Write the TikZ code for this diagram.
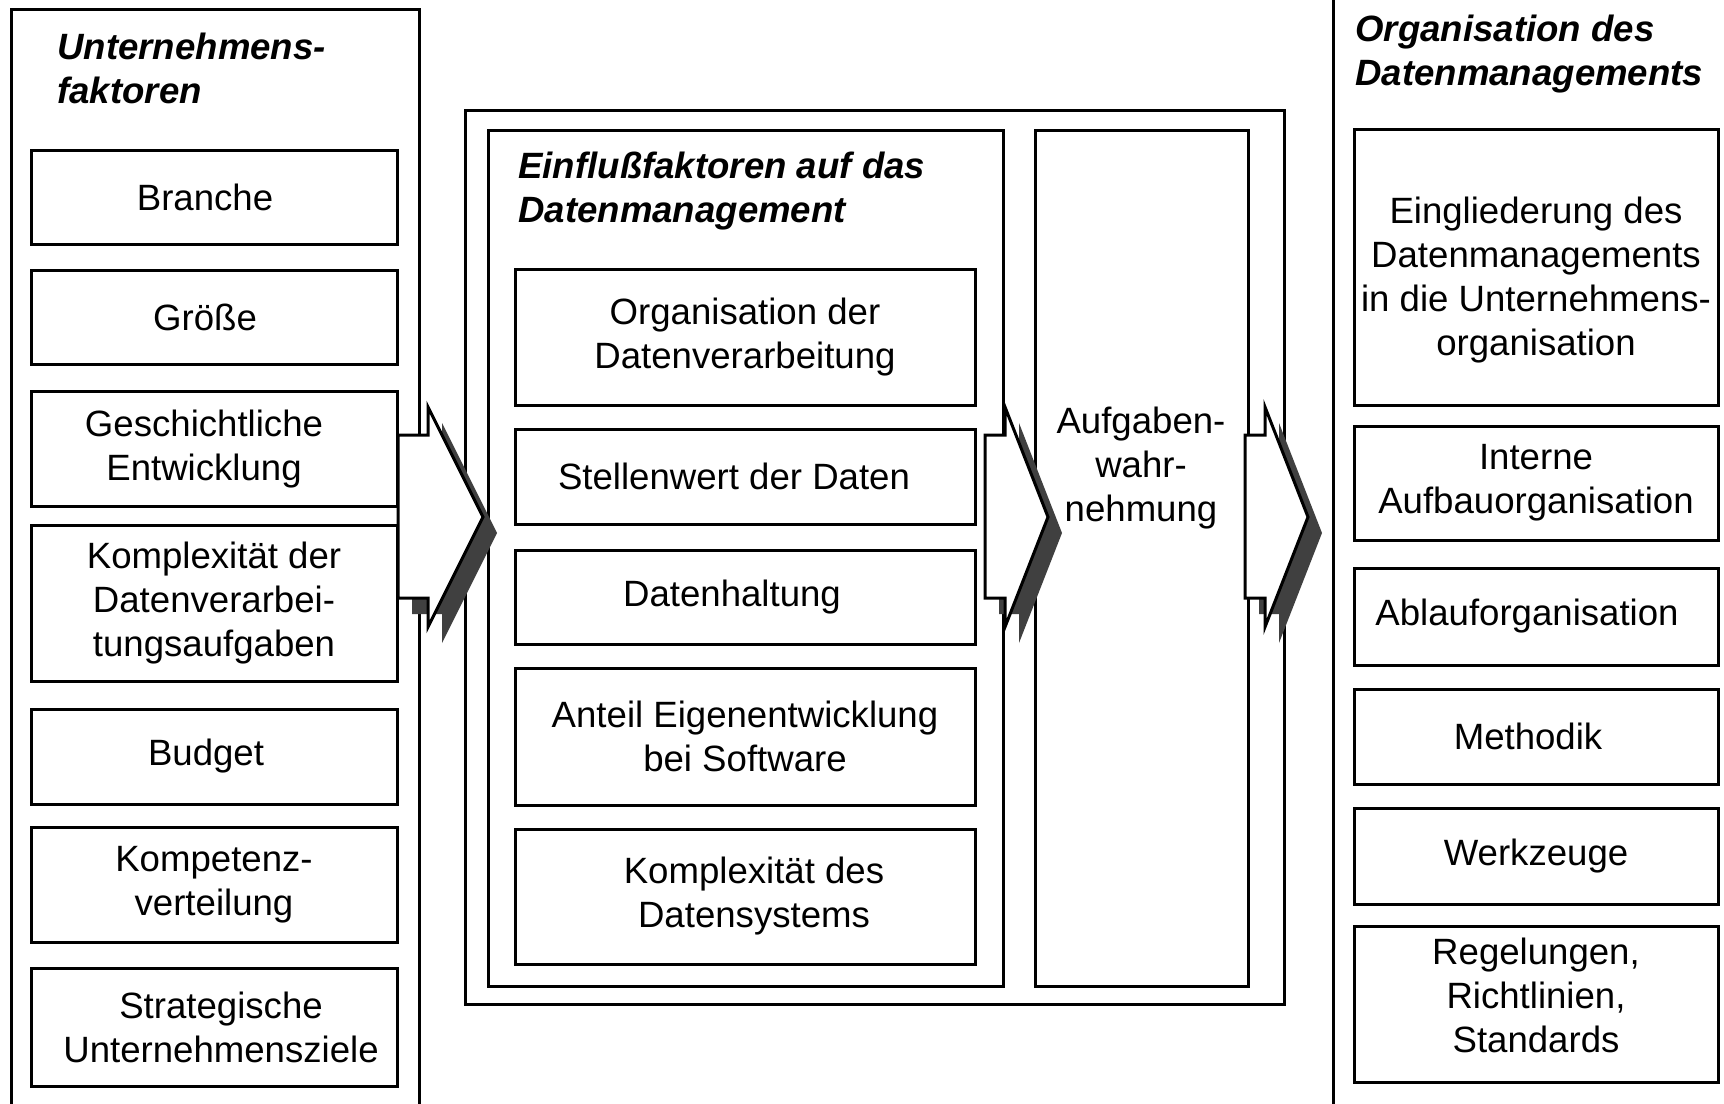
\documentclass[tikz,border=0pt]{standalone}
\usepackage{fontspec}
\setmainfont{Liberation Sans}
\definecolor{shadowgray}{RGB}{64,64,64}
\newcommand{\boxfont}{\fontsize{18.3}{22}\selectfont}
\newcommand{\headfont}{\fontsize{18.3}{22}\selectfont\bfseries\itshape}
\tikzset{
    box/.style={draw, line width=1.5pt, inner sep=0pt, align=center, font=\boxfont},
    head/.style={anchor=base west, align=left, inner sep=0pt, font=\headfont},
    frame/.style={draw, line width=1.5pt},
    blockarrow/.style={draw, fill=white, line width=1.5pt},
    arrowshadow/.style={fill=shadowgray, shift={(14,16)}}
}
\begin{document}
\begin{tikzpicture}[x=0.5pt, y=-0.5pt]
    \useasboundingbox (0,0) rectangle (1724,1103);

    % Unternehmensfaktoren (left column)
    \draw[frame] (11,1110) -- (11,9) -- (419,9) -- (419,1110);
    \node[head] (uf-head) at (57,103) {Unternehmens-\\faktoren};
    \node[box, minimum width=183pt, minimum height=47pt] (branche) at (214,197) {Branche\hspace*{9pt}};
    \node[box, minimum width=183pt, minimum height=47pt] (groesse) at (214,317) {Größe\hspace*{9pt}};
    \node[box, minimum width=183pt, minimum height=57.5pt] (geschichte) at (214,449) {Geschichtliche\hspace*{10pt}\\Entwicklung\hspace*{10pt}};
    \node[box, minimum width=183pt, minimum height=78pt] (komplex-dv) at (214,603) {Komplexität der\\Datenverarbei-\\tungsaufgaben};
    \node[box, minimum width=183pt, minimum height=47.5pt] (budget) at (214,756.5) {Budget\hspace*{8pt}};
    \node[box, minimum width=183pt, minimum height=57.5pt] (kompetenz) at (214,884.5) {Kompetenz-\\verteilung};
    \node[box, minimum width=183pt, minimum height=59pt] (strategie) at (214,1027) {\hspace*{7pt}Strategische\\\hspace*{7pt}Unternehmensziele};

    % Einflussfaktoren and Aufgabenwahrnehmung (middle)
    \node[box, minimum width=409.5pt, minimum height=447pt] (mitte) at (874.5,557) {};
    \node[box, minimum width=257.5pt, minimum height=428pt] (einfluss) at (745.5,558) {};
    \node[box, minimum width=106.5pt, minimum height=428pt] (aufgaben) at (1141.5,558) {};
    \node[head] (ed-head) at (518,222) {Einflußfaktoren auf das\\Datenmanagement};
    \node[box, minimum width=230pt, minimum height=68pt] (org-dv) at (745,337) {Organisation der\\Datenverarbeitung};
    \node[box, minimum width=230pt, minimum height=47.5pt] (stellenwert) at (745,476.5) {Stellenwert der Daten\hspace*{11pt}};
    \node[box, minimum width=230pt, minimum height=47pt] (haltung) at (745,597) {Datenhaltung\hspace*{13pt}};
    \node[box, minimum width=230pt, minimum height=68.5pt] (anteil) at (745,736.5) {Anteil Eigenentwicklung\\bei Software};
    \node[box, minimum width=230pt, minimum height=67.5pt] (komplex-ds) at (745,896.5) {\hspace*{9pt}Komplexität des\\\hspace*{9pt}Datensystems};
    \node[font=\boxfont, align=center, anchor=base, inner sep=0pt] (aufgaben-text) at (1141,521) {Aufgaben-\\wahr-\\nehmung};

    % Organisation des Datenmanagements (right column)
    \draw[frame] (1333,-5) -- (1333,1110);
    \node[head] (od-head) at (1355,85) {Organisation des\\Datenmanagements};
    \node[box, minimum width=182pt, minimum height=138pt] (eingliederung) at (1536,267) {\rule{0pt}{26pt}Eingliederung des\\Datenmanagements\\in die Unternehmens-\\organisation};
    \node[box, minimum width=182pt, minimum height=57pt] (interne) at (1536,483) {Interne\\Aufbauorganisation};
    \node[box, minimum width=182pt, minimum height=48.5pt] (ablauf) at (1536,616.5) {Ablauforganisation\hspace*{9pt}};
    \node[box, minimum width=182pt, minimum height=47.5pt] (methodik) at (1536,736.5) {Methodik\hspace*{8pt}};
    \node[box, minimum width=182pt, minimum height=48pt] (werkzeuge) at (1536,856) {Werkzeuge};
    \node[box, minimum width=182pt, minimum height=78pt] (regelungen) at (1536,1004) {Regelungen,\\Richtlinien,\\Standards\rule[-9pt]{0pt}{9pt}};

    % Block arrows with shadow
    \fill[arrowshadow] (398,435) -- (428,435) -- (428,407) -- (483,517) -- (428,627) -- (428,598) -- (398,598) -- cycle;
    \draw[blockarrow] (398,435) -- (428,435) -- (428,407) -- (483,517) -- (428,627) -- (428,598) -- (398,598) -- cycle;

    \fill[arrowshadow] (985,435) -- (1005,435) -- (1005,407) -- (1048,517) -- (1005,627) -- (1005,598) -- (985,598) -- cycle;
    \draw[blockarrow] (985,435) -- (1005,435) -- (1005,407) -- (1048,517) -- (1005,627) -- (1005,598) -- (985,598) -- cycle;

    \fill[arrowshadow] (1245,435) -- (1265,435) -- (1265,407) -- (1308,517) -- (1265,627) -- (1265,598) -- (1245,598) -- cycle;
    \draw[blockarrow] (1245,435) -- (1265,435) -- (1265,407) -- (1308,517) -- (1265,627) -- (1265,598) -- (1245,598) -- cycle;
\end{tikzpicture}
\end{document}
